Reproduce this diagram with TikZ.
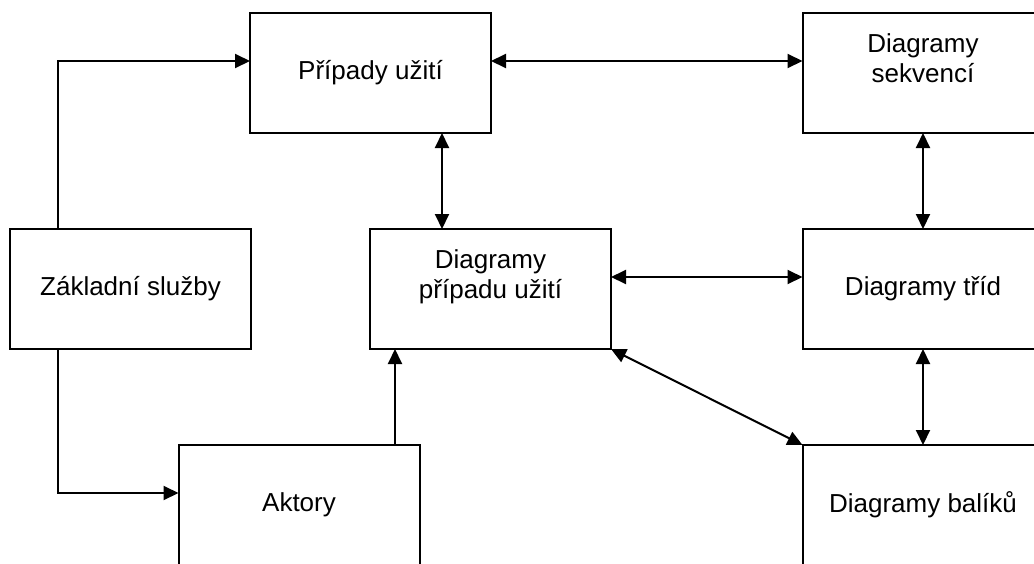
\documentclass[tikz,border=0pt]{standalone}
\usepackage{fontspec}
\setmainfont{Liberation Sans}
\usetikzlibrary{arrows.meta}
\begin{document}
\begin{tikzpicture}[x=1pt,y=-1pt,
  box/.style={draw, line width=2pt, minimum width=241pt, minimum height=120pt,
    inner sep=0pt, outer sep=0pt, align=center, font=\fontsize{26}{30}\selectfont},
  con/.style={line width=2pt},
  tip/.style={con, -{Triangle[length=15pt,width=14pt]}},
  dtip/.style={con, {Triangle[length=15pt,width=14pt]}-{Triangle[length=15pt,width=14pt]}}]
\useasboundingbox (0,0) rectangle (1034,563);
\clip (0,0) rectangle (1034,563);
\node[box] (pu) at (370.5,73) {Případy užití};
\node[box] (ds) at (923,73) {Diagramy\\sekvencí\\~};
\node[box] (zs) at (130.5,289) {Základní služby};
\node[box] (dpu) at (490.5,289) {Diagramy\\případu užití\\~};
\node[box] (dt) at (923,289) {Diagramy tříd};
\node[box] (ak) at (299,505) {Aktory};
\node[box] (db) at (923,505) {Diagramy balíků};
\draw[tip] ([xshift=-72.5pt]zs.north) |- ([yshift=12pt]pu.west);
\draw[tip] ([xshift=-72.5pt]zs.south) |- ([yshift=12pt]ak.west);
\draw[tip] ([xshift=96pt]ak.north) -- ([xshift=96pt]ak.north |- dpu.south);
\draw[dtip] ([yshift=12pt]pu.east) -- ([yshift=12pt]ds.west);
\draw[dtip] ([xshift=71.5pt]pu.south) -- ([xshift=71.5pt]pu.south |- dpu.north);
\draw[dtip] ([yshift=12pt]dpu.east) -- ([yshift=12pt]dt.west);
\draw[dtip] (ds.south) -- (dt.north);
\draw[dtip] (dt.south) -- (db.north);
\draw[dtip] (dpu.south east) -- (db.north west);
\end{tikzpicture}
\end{document}
